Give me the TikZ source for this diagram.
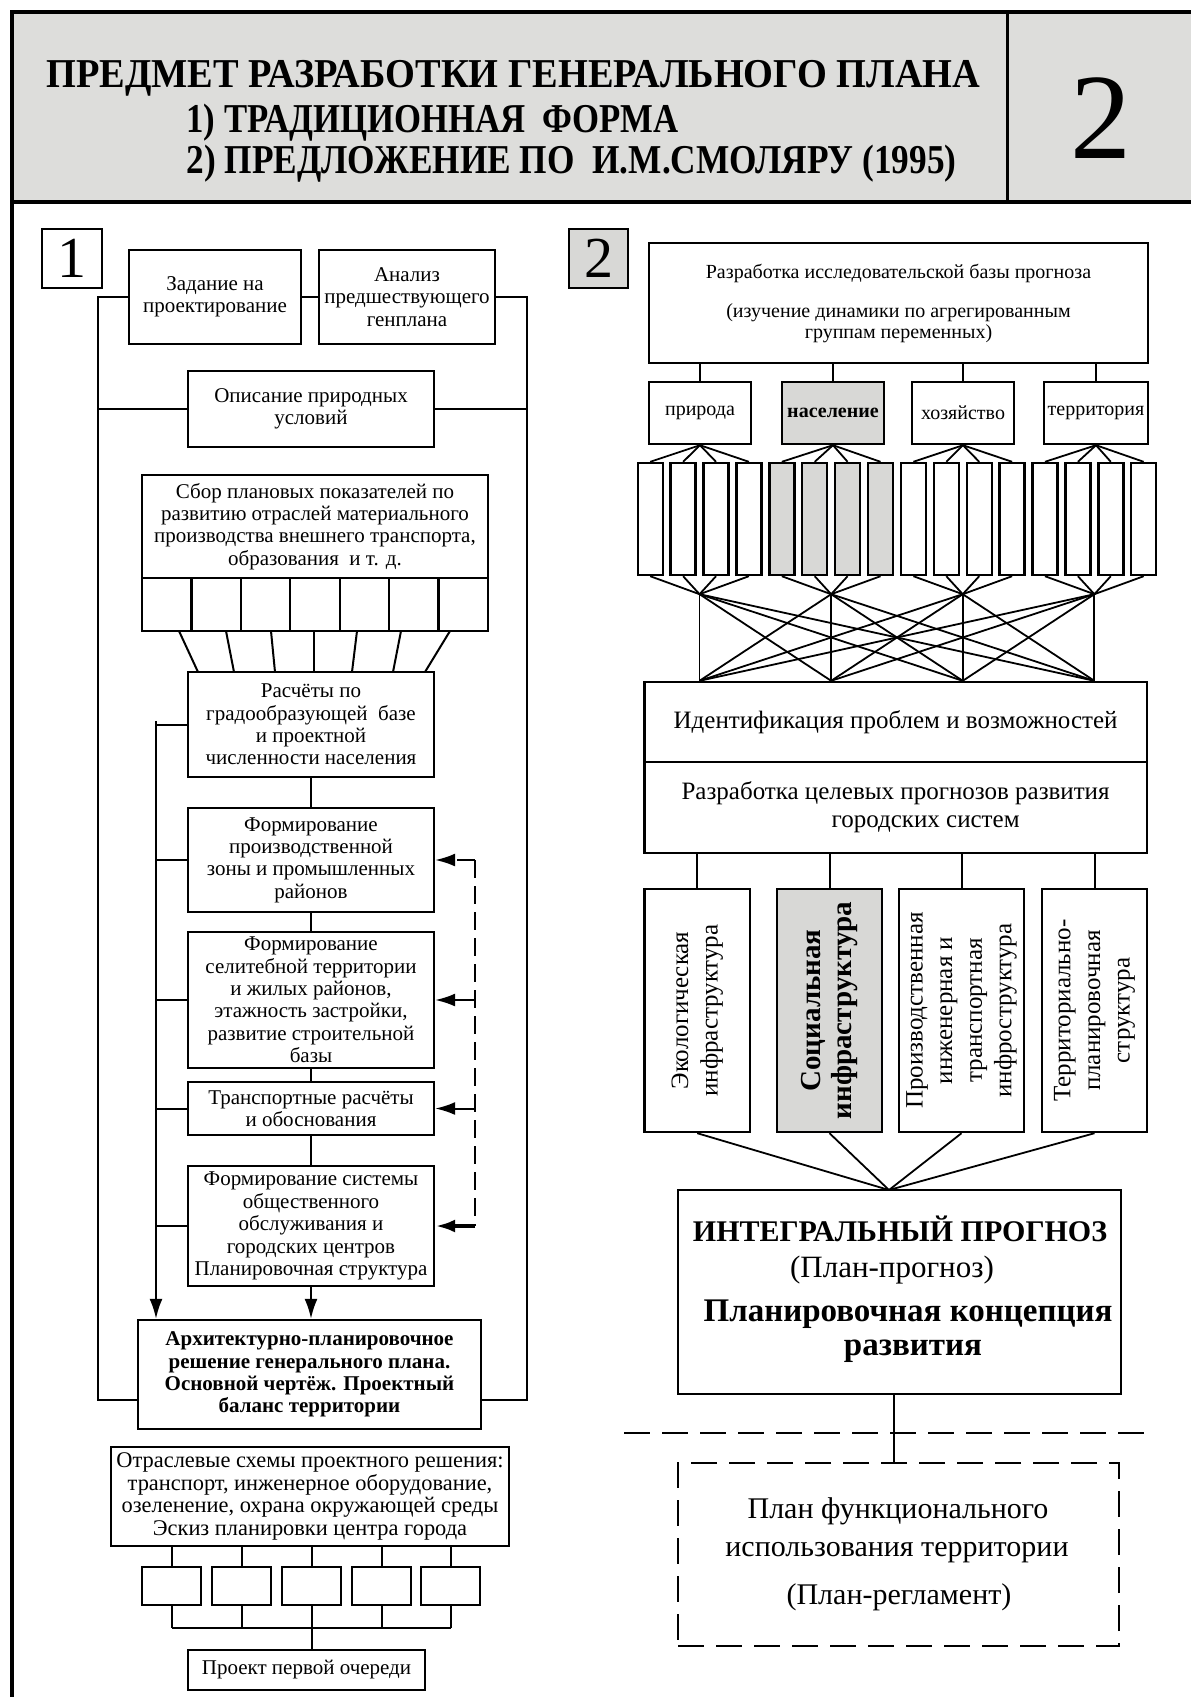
\documentclass[tikz,border=0pt]{standalone}
\usepackage{fontspec}
\usepackage{graphicx}
\setmainfont{Liberation Serif}
\usetikzlibrary{arrows.meta,calc}

\definecolor{band}{RGB}{221,221,219}
\definecolor{fillg}{RGB}{216,216,214}

\tikzset{
  box/.style={draw, line width=1.2pt, inner sep=0pt, align=center, fill=white},
  conn/.style={line width=1pt},
  thin/.style={line width=0.9pt},
  tip/.style={-{Latex[length=10pt,width=6.5pt]}},
  body/.style={font=\fontsize{10.5}{11.2}\selectfont},
  small/.style={font=\fontsize{10}{10.5}\selectfont},
  mid/.style={font=\fontsize{12.5}{13.8}\selectfont},
  infra/.style={font=\fontsize{12.5}{14.8}\selectfont},
  leftdash/.style={dash pattern=on 9pt off 4pt, line width=1pt},
  rightdash/.style={dash pattern=on 13pt off 6pt, line width=1pt},
}
% rectangle node between two corners: [options]{name}{x1}{y1}{x2}{y2}{text}
\newcommand\rbox[7][]{%
  \pgfmathsetmacro\rbx{(#3+#5)/2}%
  \pgfmathsetmacro\rby{(#4+#6)/2}%
  \pgfmathsetmacro\rbw{(#5-#3)*0.5}%
  \pgfmathsetmacro\rbh{(#6-#4)*0.5}%
  \node[box,minimum width=\rbw pt,minimum height=\rbh pt,#1] (#2) at (\rbx,\rby) {#7};}
\newcommand\titlefont{\fontsize{20.5}{22}\selectfont\bfseries}

\begin{document}
\begin{tikzpicture}[x=0.5pt,y=-0.5pt]
\useasboundingbox (0,0) rectangle (1191,1697);
\fill[white] (0,0) rectangle (1191,1697);

% ---------- header band ----------
\fill[band] (12,12) rectangle (1191,202);
\draw[line width=2pt] (10,11.5) -- (1191,11.5);
\draw[line width=2pt] (12,202) -- (1191,202);
\draw[line width=2.2pt] (12,10) -- (12,1697);
\draw[line width=1.5pt] (1007,11.5) -- (1007,202);

\node[anchor=base west, inner sep=0pt, font=\titlefont] (title1) at (46,87)
  {\resizebox{467pt}{\height}{ПРЕДМЕТ РАЗРАБОТКИ ГЕНЕРАЛЬНОГО ПЛАНА}};
\node[anchor=base west, inner sep=0pt, font=\titlefont] (title2) at (186,132)
  {\resizebox{246pt}{\height}{1) ТРАДИЦИОННАЯ\ \ ФОРМА}};
\node[anchor=base west, inner sep=0pt, font=\titlefont] (title3) at (186,173)
  {\resizebox{385pt}{\height}{2) ПРЕДЛОЖЕНИЕ ПО\ \ И.М.СМОЛЯРУ (1995)}};
\node[anchor=base, inner sep=0pt, font=\fontsize{61}{61}\selectfont] (sheetno) at (1101,158) {2};

% ---------- scheme 1: traditional form ----------
\rbox[font=\fontsize{29}{29}\selectfont]{lab1}{42}{229}{102}{288}{1}
\rbox[body]{zad}{129}{250}{301}{344}{Задание на\\проектирование}
\rbox[body]{anl}{319}{250}{495}{344}{Анализ\\предшествующего\\генплана}
\rbox[body]{opis}{188}{371}{434}{447}{Описание природных\\условий}
\rbox[body]{sbor}{142}{475}{488}{578}{Сбор плановых показателей по\\развитию отраслей материального\\производства внешнего транспорта,\\образования\ \ и т. д.}
\foreach \i in {0,...,6} {
  \pgfmathsetmacro\xa{142+49.43*\i}
  \pgfmathsetmacro\xb{142+49.43*(\i+1)}
  \rbox{cell\i}{\xa}{578}{\xb}{631}{}
}
\rbox[body]{rasch}{188}{672}{434}{777}{Расчёты по\\градообразующей\ \ базе\\и проектной\\численности населения}
\rbox[body]{f1}{188}{808}{434}{912}{Формирование\\производственной\\зоны и промышленных\\районов}
\rbox[body]{f2}{188}{932}{434}{1068}{Формирование\\селитебной территории\\и жилых районов,\\этажность застройки,\\развитие строительной\\базы}
\rbox[body]{trans}{188}{1082}{434}{1135}{Транспортные расчёты\\и обоснования}
\rbox[body]{fs}{188}{1166}{434}{1286}{Формирование системы\\общественного\\обслуживания и\\городских центров\\Планировочная структура}
\rbox[font=\fontsize{10.5}{11.2}\selectfont\bfseries]{arch}{138}{1320}{481}{1429}{Архитектурно-планировочное\\решение генерального плана.\\Основной чертёж. Проектный\\баланс территории}
\rbox[font=\fontsize{11.2}{11.4}\selectfont]{otr}{111}{1447}{509}{1546}{Отраслевые схемы проектного решения:\\транспорт, инженерное оборудование,\\озеленение, охрана окружающей среды\\Эскиз планировки центра города}
\foreach \i/\xa in {1/142,2/212,3/282,4/352,5/421} {
  \rbox{sb\i}{\xa}{1567}{\xa+59}{1605}{}
}
\rbox[body]{proj}{188}{1650}{425}{1690}{Проект первой очереди}

% outer loop joining the initial data with the master plan
\coordinate (LL) at (98,1400);
\coordinate (RL) at (527,1400);
\draw[conn] (zad.east) -- (anl.west);
\draw[conn] (zad.west) -| (LL) -- (LL -| arch.west);
\draw[conn] (anl.east) -| (RL) -- (RL -| arch.east);
\draw[conn] (opis.west) -- (opis.west -| LL);
\draw[conn] (opis.east) -- (opis.east -| RL);

% funnel from the indicator cells into the calculations
\foreach \a/\b [count=\k] in {179/198,226/234,271/275,314/314,357/352,401/393,450/425} {
  \coordinate (fu\k) at (\a,631);
  \coordinate (fd\k) at (\b,672);
  \draw[conn] (fu\k) -- (fd\k);
}

% main chain
\draw[conn] (rasch.south) -- (f1.north);
\draw[conn] (f1.south) -- (f2.north);
\draw[conn] (f2.south) -- (trans.north);
\draw[conn] (trans.south) -- (fs.north);
\draw[conn,tip] (fs.south) -- (fs.south |- arch.north);

% inner feed line on the left
\coordinate (FB) at (156,721);
\draw[conn,tip] (FB) -- (FB |- arch.north);
\foreach \n in {rasch,f1,f2,trans,fs} {
  \draw[conn] (\n.west) -- (\n.west -| FB);
}

% dashed feedback on the right
\coordinate (DB) at (475,860);
\draw[leftdash] (f1.east -| DB) -- (fs.east -| DB);
\draw[leftdash,tip] (f1.east -| DB) -- (f1.east);
\draw[conn,tip] (f2.east -| DB) -- (f2.east);
\draw[conn,tip] (trans.east -| DB) -- (trans.east);
\draw[line width=2pt,tip] (fs.east -| DB) -- (fs.east);

% sectoral schemes and first stage project
\coordinate (BUS) at (0,1628);
\foreach \i in {1,...,5} {
  \draw[conn] (sb\i.north |- otr.south) -- (sb\i.north);
  \draw[conn] (sb\i.south) -- (sb\i.south |- BUS);
}
\draw[conn] (sb1.south |- BUS) -- (sb5.south |- BUS);
\draw[conn] (sb3.south |- BUS) -- (sb3.south |- proj.north);

% ---------- scheme 2: proposal ----------
\rbox[fill=fillg,font=\fontsize{29}{29}\selectfont]{lab2}{569}{229}{628}{288}{2}
\rbox[small]{razr}{649}{243}{1148}{363}{Разработка исследовательской базы прогноза\\[9pt](изучение динамики по агрегированным\\группам переменных)}
\rbox[small]{c0}{649}{382}{751}{444}{природа}
\rbox[fill=fillg,font=\fontsize{10}{10.5}\selectfont\bfseries]{c1}{782}{382}{884}{444}{население}
\rbox[small]{c2}{912}{382}{1014}{444}{хозяйство}
\rbox[small]{c3}{1044}{382}{1148}{444}{территория}
\foreach \g in {0,...,3} {
  \draw[conn] (c\g.north) -- (c\g.north |- razr.south);
}

% sixteen variable bars
\foreach \i in {0,...,15} {
  \pgfmathsetmacro\xa{637.7+32.9*\i}
  \pgfmathsetmacro\xb{\xa+25}
  \ifnum\i>3 \ifnum\i<8
    \rbox[fill=fillg]{t\i}{\xa}{463}{\xb}{575}{}
  \else
    \rbox{t\i}{\xa}{463}{\xb}{575}{}
  \fi \else
    \rbox{t\i}{\xa}{463}{\xb}{575}{}
  \fi
}

\rbox[mid]{ident}{644.5}{682}{1146.7}{762}{Идентификация проблем и возможностей}
\rbox[mid]{razr2}{644.5}{762}{1146.7}{853}{Разработка целевых прогнозов развития\\\hspace*{30pt}городских систем}

% fans above and below the bars, and the full cross-link
\foreach \g in {0,...,3} {
  \pgfmathtruncatemacro\a{4*\g}
  \pgfmathtruncatemacro\b{4*\g+3}
  \coordinate (hub\g) at ($(t\a.south)!0.5!(t\b.south)+(0,18)$);
  \coordinate (low\g) at (hub\g |- ident.north);
  \foreach \k in {0,...,3} {
    \pgfmathtruncatemacro\m{4*\g+\k}
    \draw[thin] (c\g.south) -- (t\m.north);
    \draw[thin] (t\m.south) -- (hub\g);
  }
}
\foreach \g in {0,...,3} {
  \foreach \h in {0,...,3} {
    \draw[thin] (hub\g) -- (low\h);
  }
}

% infrastructure blocks
\rbox{inf0}{644.5}{889}{750}{1132}{}
\rbox[fill=fillg]{inf1}{777}{889}{882}{1132}{}
\rbox{inf2}{899}{889}{1024}{1132}{}
\rbox{inf3}{1042}{889}{1147}{1132}{}
\node[rotate=90, align=center, infra] (inft0) at (inf0.center) {Экологическая\\инфраструктура};
\node[rotate=90, align=center, font=\fontsize{14.5}{15.5}\selectfont\bfseries] (inft1) at (inf1.center) {Социальная\\инфраструктура};
\node[rotate=90, align=center, infra] (inft2) at (inf2.center) {Производственная\\инженерная и\\транспортная\\инфроструктура};
\node[rotate=90, align=center, infra] (inft3) at (inf3.center) {Территориально-\\планировочная\\структура};
\foreach \i in {0,...,3} {
  \draw[conn] (inf\i.north) -- (inf\i.north |- razr2.south);
}

% integral forecast
\rbox{integ}{678}{1190}{1121}{1394}{}
\coordinate (apex) at (889,1190);
\foreach \i in {0,...,3} {
  \draw[thin] (inf\i.south) -- (apex);
}
\node[anchor=base, inner sep=0pt, font=\fontsize{15}{17}\selectfont\bfseries] (ig1) at (900,1241) {ИНТЕГРАЛЬНЫЙ ПРОГНОЗ};
\node[anchor=base, inner sep=0pt, font=\fontsize{15.5}{17}\selectfont] (ig2) at (892,1277) {(План-прогноз)};
\node[anchor=base, inner sep=0pt, font=\fontsize{16.5}{18}\selectfont\bfseries] (ig3) at (908,1321) {Планировочная концепция};
\node[anchor=base, inner sep=0pt, font=\fontsize{16.5}{18}\selectfont\bfseries] (ig4) at (913,1355) {развития};

% separator and the regulation plan
\coordinate (sepL) at (624,1433);
\coordinate (sepR) at (1152,1433);
\draw[rightdash] (sepL) -- (sepR);
\rbox[rightdash,fill=none]{plan}{678}{1463}{1119}{1646}{}
\draw[conn] (integ.south -| 894,0) -- (plan.north -| 894,0);
\node[anchor=base, inner sep=0pt, font=\fontsize{15}{17}\selectfont] (pl1) at (898,1518) {План функционального};
\node[anchor=base, inner sep=0pt, font=\fontsize{15}{17}\selectfont] (pl2) at (897,1556) {использования территории};
\node[anchor=base, inner sep=0pt, font=\fontsize{15}{17}\selectfont] (pl3) at (899,1604) {(План-регламент)};
\end{tikzpicture}
\end{document}
